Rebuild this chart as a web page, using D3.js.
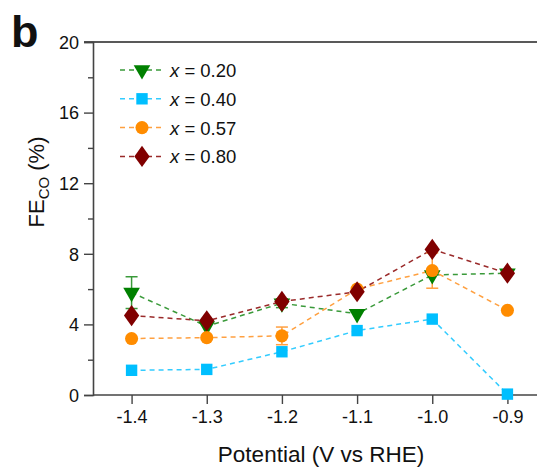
<!DOCTYPE html>
<html>
<head>
<meta charset="utf-8">
<script src="https://cdn.jsdelivr.net/npm/d3@7"></script>
<style>
body { margin: 0; background: #fff; }
text { font-family: "Liberation Sans", Arial, sans-serif; fill: #111; }
</style>
</head>
<body>
<script>
// data
var potencial = [-1.4, -1.3, -1.2, -1.1, -1.0, -0.9]
var rotulosX = ["-1.4", "-1.3", "-1.2", "-1.1", "-1.0", "-0.9"]
var ticksY = [0, 4, 8, 12, 16, 20]

var fe020 = [5.8, 3.9, 5.2, 4.6, 6.8, 6.9]
var erro020 = [0.9, 0, 0.25, 0, 0, 0]
var fe040 = [1.4, 1.45, 2.45, 3.65, 4.3, 0.05]
var erro040 = [0, 0, 0, 0, 0, 0]
var fe057 = [3.2, 3.25, 3.35, 6.0, 7.05, 4.8]
var erro057 = [0, 0, 0.5, 0, 1.0, 0]
var fe080 = [4.5, 4.2, 5.3, 5.85, 8.25, 6.9]
var erro080 = [0, 0, 0, 0, 0, 0]

var series = [
    {nome: "0.20", valores: fe020, erros: erro020, cor: "#008000", linha: "#3a9a3a", simbolo: "tri"},
    {nome: "0.40", valores: fe040, erros: erro040, cor: "#00bfff", linha: "#33ccff", simbolo: "sq"},
    {nome: "0.57", valores: fe057, erros: erro057, cor: "#ff8c00", linha: "#ffa040", simbolo: "circ"},
    {nome: "0.80", valores: fe080, erros: erro080, cor: "#800000", linha: "#9a2a2a", simbolo: "dia"}
]

svg = d3.select("body")
    .append("svg")
    .attr("width", 537)
    .attr("height", 470)

var escalaX = d3.scaleLinear()
    .domain([-1.45, -0.85])
    .range([94, 545])

var escalaY = d3.scaleLinear()
    .domain([0, 20])
    .range([395, 42])

function simbolo(tipo) {
    if (tipo == "tri") return d3.symbol().type(d3.symbolTriangle).size(120)
    if (tipo == "sq") return d3.symbol().type(d3.symbolSquare).size(130)
    if (tipo == "circ") return d3.symbol().type(d3.symbolCircle).size(135)
    return d3.symbol().type(d3.symbolDiamond).size(130)
}
function rotacao(tipo) {
    if (tipo == "tri") return " rotate(180)"
    if (tipo == "dia") return " scale(1.25,1)"
    return ""
}

// axes
var corEixo = "#444"
svg.append("line").attr("x1", 84).attr("x2", 537).attr("y1", 42).attr("y2", 42)
    .attr("stroke", "#222").attr("stroke-width", 1.6)

var eixoY = d3.axisLeft(escalaY).tickValues(ticksY).tickSize(9).tickPadding(5).tickFormat(d3.format("d"))
var gY = svg.append("g").attr("transform", "translate(93,0)").call(eixoY)
gY.selectAll("text").attr("font-size", 18).attr("dy", "0.35em")
gY.select(".domain").attr("stroke", corEixo).attr("stroke-width", 1.6)
gY.selectAll(".tick line").attr("stroke", corEixo).attr("stroke-width", 1.4)
svg.append("g").attr("transform", "translate(93,0)")
    .call(d3.axisLeft(escalaY).tickValues([2, 6, 10, 14, 18]).tickSize(5).tickFormat(""))
    .call(g => g.select(".domain").remove())
    .selectAll("line").attr("stroke", corEixo).attr("stroke-width", 1.4)

var eixoX = d3.axisBottom(escalaX).tickValues(potencial).tickSize(9).tickPadding(6)
    .tickFormat((d, i) => rotulosX[i])
var gX = svg.append("g").attr("transform", "translate(0,395)").call(eixoX)
gX.selectAll("text").attr("font-size", 18)
gX.select(".domain").attr("d", "M93,0H537").attr("stroke", corEixo).attr("stroke-width", 1.6)
gX.selectAll(".tick line").attr("stroke", corEixo).attr("stroke-width", 1.4)

// titles
svg.append("text").attr("x", 11).attr("y", 47).attr("font-size", 45).attr("font-weight", "bold").text("b")
svg.append("text").attr("x", 321).attr("y", 462).attr("text-anchor", "middle").attr("font-size", 22.5)
    .text("Potential (V vs RHE)")
var tituloY = svg.append("text").attr("transform", "translate(44,182) rotate(-90)")
    .attr("text-anchor", "middle").attr("font-size", 22)
tituloY.append("tspan").text("FE")
tituloY.append("tspan").attr("font-size", 15).attr("dy", 5).text("CO")
tituloY.append("tspan").attr("dy", -5).text(" (%)")

// series
var linha = d3.line().x((d, i) => escalaX(potencial[i])).y(d => escalaY(d))
series.forEach(function(s) {
    svg.append("path").datum(s.valores)
        .attr("d", linha).attr("fill", "none")
        .attr("stroke", s.linha).attr("stroke-width", 1.5).attr("stroke-dasharray", "5,4")
})
series.forEach(function(s) {
    s.valores.forEach(function(v, i) {
        if (s.erros[i] > 0) {
            var x = escalaX(potencial[i])
            var y1 = escalaY(v + s.erros[i]), y2 = escalaY(v - s.erros[i])
            var g = svg.append("g").attr("stroke", s.linha).attr("stroke-width", 1.5)
            g.append("line").attr("x1", x).attr("x2", x).attr("y1", y1).attr("y2", y2)
            g.append("line").attr("x1", x - 6).attr("x2", x + 6).attr("y1", y1).attr("y2", y1)
            g.append("line").attr("x1", x - 6).attr("x2", x + 6).attr("y1", y2).attr("y2", y2)
        }
    })
})
series.forEach(function(s) {
    svg.selectAll(null).data(s.valores).enter()
        .append("path")
        .attr("d", simbolo(s.simbolo))
        .attr("transform", (d, i) => "translate(" + escalaX(potencial[i]) + "," + escalaY(d) + ")" + rotacao(s.simbolo))
        .attr("fill", s.cor)
})

// legend
var legenda = svg.append("g")
series.forEach(function(s, i) {
    var y = 70 + i * 28.8
    legenda.append("line").attr("x1", 120).attr("x2", 162).attr("y1", y).attr("y2", y)
        .attr("stroke", s.linha).attr("stroke-width", 1.5).attr("stroke-dasharray", "5,4")
    legenda.append("path").attr("d", simbolo(s.simbolo))
        .attr("transform", "translate(142," + y + ")" + rotacao(s.simbolo))
        .attr("fill", s.cor)
    var t = legenda.append("text").attr("x", 170).attr("y", y + 7).attr("font-size", 18.5)
    t.append("tspan").attr("font-style", "italic").text("x")
    t.append("tspan").text(" = " + s.nome)
})
</script>
</body>
</html>
